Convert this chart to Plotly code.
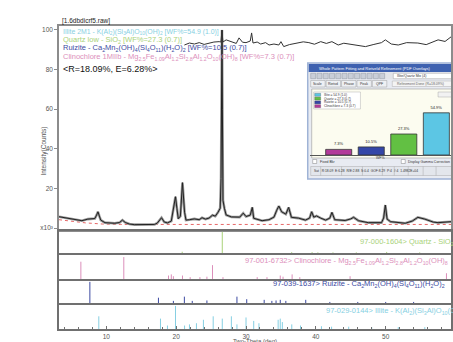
import plotly.graph_objects as go

# ---------------- data ----------------
two_theta_obs = [3.22, 4.07, 5.5, 6.5, 7.35, 8.35, 8.6, 8.8, 9.0, 9.2, 9.8, 11.2, 11.9, 12.3, 12.7,
                 13.3, 14.0, 15.5, 16.9, 17.3, 17.9, 18.3, 18.75, 19.3, 19.6, 19.9, 20.1, 20.3, 20.6,
                 20.9, 21.2, 21.4, 21.9, 22.6, 23.3, 23.7, 24.2, 24.7, 25.2, 25.6, 26.0, 26.3, 26.42,
                 26.5, 26.56, 26.62, 26.7, 26.9, 27.15, 27.9, 28.6, 29.1, 29.6, 30.0, 30.6, 30.9, 31.1,
                 31.8, 32.3, 33.3, 34.0, 34.4, 34.7, 35.1, 35.7, 36.1, 36.5, 37.5, 38.5, 39.1, 39.4,
                 39.7, 40.1, 40.7, 41.4, 42.0, 42.3, 42.7, 44.2, 45.0, 45.4, 46.1, 47.5, 49.4, 49.7,
                 49.95, 50.2, 50.7, 52.8, 53.8, 54.6, 55.6, 56.8, 57.5, 59.35]
counts_obs = [5.7, 5.2, 4.4, 3.7, 4.5, 4.8, 6.5, 8.2, 6.0, 4.0, 2.7, 2.4, 2.8, 4.0, 2.8,
              2.0, 1.7, 1.7, 1.8, 2.5, 5.2, 3.0, 2.6, 3.5, 9.0, 15.8, 10.0, 4.7, 6.0,
              22.9, 8.0, 4.0, 4.2, 4.6, 4.2, 5.2, 4.5, 5.0, 6.5, 6.0, 8.0, 10.0, 25.0,
              70.0, 100.0, 60.0, 14.0, 10.0, 6.6, 5.6, 5.7, 5.5, 7.5, 5.8, 6.5, 10.4, 4.9,
              4.0, 3.7, 4.2, 5.5, 9.0, 11.1, 8.2, 7.0, 10.4, 5.4, 5.0, 4.0, 5.0, 8.2,
              5.5, 6.1, 5.0, 4.0, 5.0, 7.9, 4.2, 3.8, 4.6, 5.4, 3.7, 2.7, 2.7, 5.0,
              11.6, 4.5, 3.2, 2.4, 3.5, 5.4, 4.5, 3.0, 2.7, 3.2]

two_theta_diff = [21.17, 21.9, 22.6, 23.3, 24.0, 24.7, 25.4, 26.15, 26.4, 26.55, 26.7, 27.15, 28.0,
                  28.6, 29.0, 29.5, 30.0, 30.6, 30.8, 31.0, 31.6, 32.1, 32.8, 33.3, 34.0, 34.7,
                  35.0, 35.4, 36.2, 37.5, 38.2, 39.0, 39.8, 40.7, 41.5, 42.3, 43.2, 44.0, 44.7,
                  45.6, 47.1, 48.2, 49.4, 49.95, 50.8, 51.8, 53.0, 54.6, 55.8, 57.5, 58.5, 59.35]
counts_diff = [92.4, 93.4, 92.9, 93.6, 92.7, 93.4, 93.9, 94.1, 93.9, 99.6, 93.9, 95.0, 94.1,
               93.2, 96.0, 93.8, 93.6, 94.4, 98.5, 93.4, 93.9, 92.9, 93.6, 92.4, 92.9, 92.4,
               94.1, 91.6, 92.6, 93.4, 94.0, 93.6, 92.8, 94.1, 93.2, 94.1, 92.4, 93.3, 92.9,
               92.2, 91.6, 92.6, 93.6, 95.0, 92.9, 92.4, 93.6, 93.4, 92.6, 95.0, 94.2, 96.5]

two_theta_bkg = [3.22, 5.0, 7.0, 9.5, 12.0, 59.35]
counts_bkg = [4.2, 3.4, 2.6, 2.0, 1.8, 1.8]

quartz_pos = [20.86, 26.6, 36.54, 39.46, 40.29, 42.45, 45.79, 50.14, 54.87, 59.96]
quartz_int = [6, 100, 4, 4, 3, 3, 3, 5, 3, 3]

clino_pos = [6.35, 12.5, 18.9, 19.3, 19.6, 20.9, 22.0, 23.4, 24.4, 25.2, 26.7, 31.6, 33.0,
             34.9, 35.3, 36.6, 37.7, 44.9, 58.7]
clino_int = [75, 95, 15, 20, 12, 15, 8, 8, 10, 60, 8, 8, 8, 15, 10, 20, 8, 12, 25]

ruizite_pos = [7.64, 17.46, 19.6, 21.17, 22.3, 24.4, 28.7, 30.1, 32.6, 33.7, 34.3, 34.9, 35.7,
               38.55, 42.0, 46.0, 50.0, 54.0]
ruizite_int = [100, 25, 10, 30, 10, 12, 30, 18, 15, 10, 12, 15, 10, 15, 5, 5, 5, 5]

illite_pos = [8.92, 17.75, 18.75, 19.9, 21.2, 21.9, 22.9, 23.9, 25.3, 26.6, 27.9, 28.7, 30.0,
              31.1, 31.85, 34.6, 34.9, 35.2, 36.55, 37.8, 40.8, 42.25, 44.7, 48.0, 51.8, 55.6]
illite_int = [55, 45, 15, 100, 15, 20, 25, 40, 55, 45, 55, 20, 50, 35, 25, 40, 45, 30, 20, 15,
              12, 10, 10, 8, 8, 8]

phase_names = ["Clinochlore", "Ruizite", "Quartz", "Illite"]
wf_percent = [7.3, 10.5, 27.3, 54.9]
wf_labels = ["7.3%", "10.5%", "27.3%", "54.9%"]
y_tick_vals = [0, 20, 40, 60, 80, 100]
y_tick_text = ["x10³", "20", "40", "60", "80", "100"]
x_tick_vals = [10, 20, 30, 40, 50]

# ---------------- geometry helpers ----------------
W, H = 453, 342
L, R, T, B = 59, 0, 26, 13
PW, PH = W - L - R, H - T - B


def px(x):
    return (x - L) / PW


def py(y):
    return (H - B - y) / PH


C_ILL = "#86cfe2"
C_QTZ = "#a9d27a"
C_RUI = "#3c4aa2"
C_CLI = "#dc8fbb"
LBL = 7.5


def sticks(pos, inten):
    xs, ys = [], []
    for p, i in zip(pos, inten):
        xs += [p, p, None]
        ys += [0, i, None]
    return xs, ys


fig = go.Figure()

# main panel
fig.add_trace(go.Scatter(x=two_theta_bkg, y=counts_bkg, mode="lines",
                         line=dict(color="#e04040", width=0.8, dash="dot"), xaxis="x", yaxis="y"))
fig.add_trace(go.Scatter(x=two_theta_obs, y=counts_obs, mode="lines",
                         line=dict(color="#9a9a9a", width=2.6), xaxis="x", yaxis="y"))
fig.add_trace(go.Scatter(x=two_theta_obs, y=counts_obs, mode="lines",
                         line=dict(color="#222222", width=1.0), xaxis="x", yaxis="y"))
fig.add_trace(go.Scatter(x=two_theta_diff, y=counts_diff, mode="lines",
                         line=dict(color="#333333", width=1.0), xaxis="x", yaxis="y"))

# stick panels
for pos, inten, col, ax in [(quartz_pos, quartz_int, C_QTZ, "2"),
                            (clino_pos, clino_int, C_CLI, "3"),
                            (ruizite_pos, ruizite_int, C_RUI, "4"),
                            (illite_pos, illite_int, C_ILL, "5")]:
    xs, ys = sticks(pos, inten)
    fig.add_trace(go.Scatter(x=xs, y=ys, mode="lines", line=dict(color=col, width=1.0),
                             xaxis="x" + ax, yaxis="y" + ax))

# inset bar chart
fig.add_trace(go.Bar(x=[0, 1, 2, 3], y=wf_percent, width=0.8,
                     marker=dict(color=["#b23a9a", "#3446a8", "#62c043", "#5cc6e4"],
                                 line=dict(color="#333333", width=0.8)),
                     text=wf_labels, textposition="outside", cliponaxis=False,
                     textfont=dict(size=4, color="#222"), hovertext=phase_names,
                     xaxis="x6", yaxis="y6"))

xr = [3.22, 59.35]
frame_main = dict(showline=True, linecolor="#8c8c8c", linewidth=1.5, mirror=True,
                  showgrid=False, zeroline=False)
frame_panel = dict(showline=True, linecolor="#707070", linewidth=2, mirror=True,
                   showgrid=False, zeroline=False)

layout = dict(
    width=W, height=H, margin=dict(l=L, r=R, t=T, b=B),
    paper_bgcolor="white", plot_bgcolor="rgba(0,0,0,0)", showlegend=False,
    font=dict(family="Arial", size=7, color="#444"),
    xaxis=dict(domain=[0, 1], range=xr, anchor="y", showticklabels=False, ticks="", **frame_main),
    yaxis=dict(domain=[py(230), 1], range=[-1, 102], anchor="x", tickvals=y_tick_vals,
               ticktext=y_tick_text, ticks="outside", ticklen=3, tickcolor="#8c8c8c",
               tickfont=dict(size=6.5, color="#555"), **frame_main),
    xaxis2=dict(domain=[0, 1], range=xr, anchor="y2", matches="x", showticklabels=False, ticks="", **frame_panel),
    yaxis2=dict(domain=[py(253), py(231)], range=[0, 104], anchor="x2", showticklabels=False, ticks="", **frame_panel),
    xaxis3=dict(domain=[0, 1], range=xr, anchor="y3", matches="x", showticklabels=False, ticks="", **frame_panel),
    yaxis3=dict(domain=[py(279), py(255)], range=[0, 104], anchor="x3", showticklabels=False, ticks="", **frame_panel),
    xaxis4=dict(domain=[0, 1], range=xr, anchor="y4", matches="x", showticklabels=False, ticks="", **frame_panel),
    yaxis4=dict(domain=[py(303), py(281)], range=[0, 104], anchor="x4", showticklabels=False, ticks="", **frame_panel),
    xaxis5=dict(domain=[0, 1], range=xr, anchor="y5", matches="x", tickvals=x_tick_vals,
                ticks="inside", ticklen=3, tickcolor="#707070",
                minor=dict(dtick=2, tick0=0, ticks="inside", ticklen=2, tickcolor="#707070"),
                tickfont=dict(size=6.5, color="#555"), **frame_panel),
    yaxis5=dict(domain=[0, py(305)], range=[0, 104], anchor="x5", showticklabels=False, ticks="", **frame_panel),
    xaxis6=dict(domain=[px(311), 1.0], range=[-0.89, 3.45], anchor="y6", showline=True,
                linecolor="#555", linewidth=1, showticklabels=False, ticks="", showgrid=False, zeroline=False),
    yaxis6=dict(domain=[py(155), py(92)], range=[0, 82], anchor="x6", visible=False),
)
fig.update_layout(**layout)

# ---------------- decoration: inset window ----------------
shapes = []


def rect(x0, y0, x1, y1, fill, line="rgba(0,0,0,0)", lw=0.6):
    shapes.append(dict(type="rect", xref="paper", yref="paper", x0=px(x0), x1=px(x1),
                       y0=py(y1), y1=py(y0), fillcolor=fill, line=dict(color=line, width=lw),
                       layer="below"))


rect(309, 63, 462, 179, "#e8ebf2", "#9fb3d6", 1.5)
rect(310, 64, 462, 72, "#3e61b0")
rect(310, 72.5, 462, 79.5, "#e2e4e9")
for i in range(12):
    rect(312 + i * 6.3, 73.3, 317 + i * 6.3, 78.7, "#c9ced8", "#7d8596", 0.4)
rect(395, 73.3, 462, 78.7, "#ffffff", "#8a8a8a", 0.4)
tabs = ["Scale", "Rietvd", "Phase", "Peak", "QPF"]
for i, t in enumerate(tabs):
    rect(312 + i * 15.5, 80.5, 326.5 + i * 15.5, 87, "#eef0f4", "#8a8a8a", 0.4)
rect(394, 81, 462, 86.5, "#f4f4f4", "#a0a0a0", 0.4)
rect(313, 89, 462, 158, "#fcfcf0", "#9a9a9a", 0.6)
rect(315, 92, 362, 109, "#ffffff", "#a0a0a0", 0.4)
leg_cols = ["#5cc6e4", "#62c043", "#3446a8", "#b23a9a"]
for i, c in enumerate(leg_cols):
    rect(316, 93.3 + i * 3.8, 322, 96.3 + i * 3.8, c, "#444", 0.3)
rect(440, 92, 462, 97, "#f2f2f2", "#999", 0.4)
rect(314, 159.5, 318, 163.5, "#ffffff", "#666", 0.4)
rect(403, 159.5, 407, 163.5, "#ffffff", "#666", 0.4)
rect(312, 166.5, 462, 175.5, "#e3e6ec", "#9a9a9a", 0.4)
for xc in [322, 343, 364, 384, 396, 410, 425, 438]:
    shapes.append(dict(type="line", xref="paper", yref="paper", x0=px(xc), x1=px(xc),
                       y0=py(175.5), y1=py(166.5), line=dict(color="#9a9a9a", width=0.4), layer="below"))
fig.update_layout(shapes=shapes)

ann = []


def text(x, y, s, size=6.5, color="#444", anchor="left", **kw):
    ann.append(dict(xref="paper", yref="paper", x=px(x), y=py(y), text=s, showarrow=False,
                    xanchor=anchor, yanchor="middle", font=dict(size=size, color=color), **kw))


# file title and legend lines in the main panel
text(60, 21, "[1.6dbdicrf5.raw]", 6.5, "#222")
text(61, 32, "Illite 2M1 - K(Al<sub>2</sub>)(Si<sub>3</sub>Al)O<sub>10</sub>(OH)<sub>2</sub> [WF%=54.9 (1.0)]", 6.9, C_ILL)
text(61, 40, "Quartz low - SiO<sub>2</sub> [WF%=27.3 (0.7)]", LBL, C_QTZ)
text(61, 48, "Ruizite - Ca<sub>2</sub>Mn<sub>2</sub>(OH)<sub>4</sub>(Si<sub>4</sub>O<sub>11</sub>)(H<sub>2</sub>O)<sub>2</sub> [WF%=10.5 (0.7)]", LBL, C_RUI)
text(61, 57, "Clinochlore 1MIIb - Mg<sub>2.5</sub>Fe<sub>1.09</sub>Al<sub>1.2</sub>Si<sub>2.8</sub>Al<sub>1.2</sub>O<sub>10</sub>(OH)<sub>8</sub> [WF%=7.3 (0.7)]", LBL, C_CLI)
text(61, 69, "&lt;R=18.09%, E=6.28%&gt;", 9, "#111")
ann.append(dict(xref="paper", yref="paper", x=px(37), y=py(125), text="Intensity(Counts)",
                showarrow=False, textangle=-90, font=dict(size=6.5, color="#555")))
text(256, 340.5, "Two-Theta (deg)", 6, "#555", anchor="center")

# phase labels in stick panels
text(360, 242, "97-000-1604> Quartz - SiO<sub>2</sub>", LBL, C_QTZ)
text(244, 261, "97-001-6732> Clinochlore - Mg<sub>2.5</sub>Fe<sub>1.09</sub>Al<sub>1.2</sub>Si<sub>2.8</sub>Al<sub>1.2</sub>O<sub>10</sub>(OH)<sub>8</sub>", LBL, C_CLI)
text(272, 284, "97-039-1637> Ruizite - Ca<sub>2</sub>Mn<sub>2</sub>(OH)<sub>4</sub>(Si<sub>4</sub>O<sub>11</sub>)(H<sub>2</sub>O)<sub>2</sub>", LBL, C_RUI)
text(325, 311, "97-029-0144> Illite - K(Al<sub>2</sub>)(Si<sub>3</sub>Al)O<sub>10</sub>(OH)<sub>2</sub>", LBL, C_ILL)

# inset window texts
text(318, 68, "Whole Pattern Fitting and Rietveld Refinement (PDF Overlays)", 4, "#ffffff")
text(397, 76, "Illite/Quartz Mix (4)", 3.5, "#333")
for i, t in enumerate(tabs):
    text(319.2 + i * 15.5, 83.8, t, 3.5, "#333", anchor="center")
text(397, 83.8, "Refinement Done (R=18.09%)", 3.5, "#666")
leg_txt = ["Illite = 54.9 (1.0)", "Quartz = 27.3 (0.7)", "Ruizite = 10.5 (0.7)", "Clinochlore = 7.3 (0.7)"]
for i, t in enumerate(leg_txt):
    text(323, 94.8 + i * 3.8, t, 3.2, "#333")
text(382, 158.3, "WF%", 3.5, "#333", anchor="center")
text(319, 161.5, "Fixed Bkr", 3.5, "#333")
text(408, 161.5, "Display Gamma Correction", 3.5, "#333")
text(313, 171, "Sat   R:18.09  E:6.28  R/E:2.88  S:0.4  GOF:8.29  P:4  #:4  1.4982E+04", 3.3, "#333")
fig.update_layout(annotations=ann)

fig.write_html("out.html", config={"displayModeBar": False},
               post_script="document.body.style.margin='0px';")
